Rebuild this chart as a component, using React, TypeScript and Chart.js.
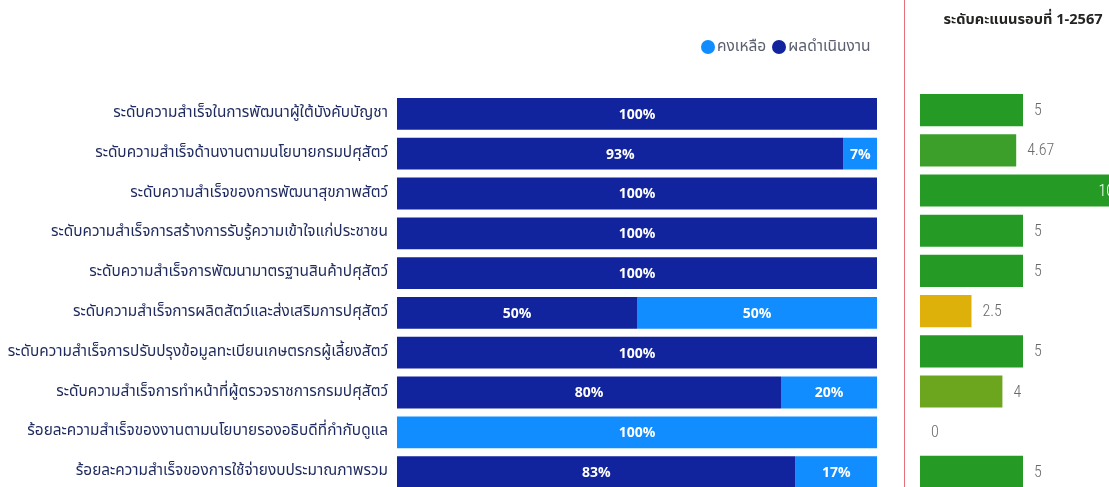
import React, { useEffect, useRef } from "react";
import { Chart, registerables } from "chart.js";

Chart.register(...registerables);

const categories = [
  "ระดับความสำเร็จในการพัฒนาผู้ใต้บังคับบัญชา",
  "ระดับความสำเร็จด้านงานตามนโยบายกรมปศุสัตว์",
  "ระดับความสำเร็จของการพัฒนาสุขภาพสัตว์",
  "ระดับความสำเร็จการสร้างการรับรู้ความเข้าใจแก่ประชาชน",
  "ระดับความสำเร็จการพัฒนามาตรฐานสินค้าปศุสัตว์",
  "ระดับความสำเร็จการผลิตสัตว์และส่งเสริมการปศุสัตว์",
  "ระดับความสำเร็จการปรับปรุงข้อมูลทะเบียนเกษตรกรผู้เลี้ยงสัตว์",
  "ระดับความสำเร็จการทำหน้าที่ผู้ตรวจราชการกรมปศุสัตว์",
  "ร้อยละความสำเร็จของงานตามนโยบายรองอธิบดีที่กำกับดูแล",
  "ร้อยละความสำเร็จของการใช้จ่ายงบประมาณภาพรวม",
];

const seriesDone = "ผลดำเนินงาน";
const seriesRemain = "คงเหลือ";
const doneValues = [100, 93, 100, 100, 100, 50, 100, 80, 0, 83];
const remainValues = [0, 7, 0, 0, 0, 50, 0, 20, 100, 17];

const scoreTitle = "ระดับคะแนนรอบที่ 1-2567";
const scoreValues = [5, 4.67, 10, 5, 5, 2.5, 5, 4, 0, 5];
const scoreMax = 10;

const DARK = "#12239E";
const LIGHT = "#118DFF";
const THAI_FONT = "'Noto Sans Thai', 'Noto Sans', 'DejaVu Sans', sans-serif";

function scoreColor(v: number): string {
  if (v >= 5) return "#259A25";
  if (v >= 4.5) return "#3C9F29";
  if (v >= 4) return "#6CA51E";
  return "#DDB10A";
}

const stackLabelPlugin = {
  id: "stackLabels",
  afterDatasetsDraw(chart: any) {
    const ctx = chart.ctx;
    ctx.save();
    ctx.font = "bold 14px 'Open Sans', 'Noto Sans', sans-serif";
    ctx.fillStyle = "#FFFFFF";
    ctx.textAlign = "center";
    ctx.textBaseline = "middle";
    chart.data.datasets.forEach((ds: any, di: number) => {
      const meta = chart.getDatasetMeta(di);
      meta.data.forEach((bar: any, i: number) => {
        const v = ds.data[i];
        if (!v) return;
        const cx = (bar.x + bar.base) / 2;
        ctx.fillText(v + "%", cx, bar.y + 1);
      });
    });
    ctx.restore();
  },
};

const scoreLabelPlugin = {
  id: "scoreLabels",
  afterDatasetsDraw(chart: any) {
    const ctx = chart.ctx;
    ctx.save();
    ctx.font = "300 16px 'Liberation Sans Narrow', 'Roboto', sans-serif";
    try { (ctx as any).fontStretch = "condensed"; } catch (e) {}
    ctx.textBaseline = "middle";
    const meta = chart.getDatasetMeta(0);
    const ds = chart.data.datasets[0];
    meta.data.forEach((bar: any, i: number) => {
      const v = ds.data[i];
      const txt = String(v);
      const w = ctx.measureText(txt).width;
      if (bar.x + 11 + w > chart.chartArea.right) {
        ctx.fillStyle = "#FFFFFF";
        ctx.textAlign = "right";
        ctx.fillText(txt, bar.x - 12, bar.y + 1);
      } else {
        ctx.fillStyle = "#6A6A6A";
        ctx.textAlign = "left";
        ctx.fillText(txt, bar.x + 11, bar.y + 1);
      }
    });
    ctx.restore();
  },
};

export default function App() {
  const leftRef = useRef<HTMLCanvasElement>(null);
  const rightRef = useRef<HTMLCanvasElement>(null);

  useEffect(() => {
    const left = new Chart(leftRef.current!, {
      type: "bar",
      data: {
        labels: categories,
        datasets: [
          { label: seriesDone, data: doneValues, backgroundColor: DARK, borderWidth: 0, barPercentage: 1, categoryPercentage: 0.8 },
          { label: seriesRemain, data: remainValues, backgroundColor: LIGHT, borderWidth: 0, barPercentage: 1, categoryPercentage: 0.8 },
        ],
      },
      options: {
        indexAxis: "y",
        responsive: false,
        animation: false,
        layout: { padding: { top: 94, bottom: 8, right: 3, left: 0 } },
        plugins: { legend: { display: false }, tooltip: { enabled: false } },
        scales: {
          x: { stacked: true, min: 0, max: 100, display: false },
          y: {
            stacked: true,
            grid: { display: false, drawTicks: false },
            border: { display: false },
            ticks: {
              padding: 9,
              color: "#1E2A5E",
              font: { size: 15.4, family: THAI_FONT },
            },
            afterFit: (s: any) => {
              s.width = 397;
              s.paddingTop = 0;
              s.paddingBottom = 0;
            },
          },
        },
      },
      plugins: [stackLabelPlugin],
    } as any);

    const right = new Chart(rightRef.current!, {
      type: "bar",
      data: {
        labels: categories,
        datasets: [
          {
            label: scoreTitle,
            data: scoreValues,
            backgroundColor: scoreValues.map(scoreColor),
            borderWidth: 0,
            barPercentage: 1,
            categoryPercentage: 0.8,
          },
        ],
      },
      options: {
        indexAxis: "y",
        responsive: false,
        animation: false,
        layout: { padding: { top: 0, bottom: 8, left: 10, right: 18 } },
        plugins: {
          legend: { display: false },
          tooltip: { enabled: false },
          title: {
            display: true,
            text: scoreTitle,
            color: "#252423",
            font: { size: 14.6, weight: "bold", family: THAI_FONT, lineHeight: 1.2 },
            padding: { top: 12, bottom: 60.5 },
          },
        },
        scales: {
          x: { min: 0, max: scoreMax, display: false },
          y: { display: false },
        },
      },
      plugins: [scoreLabelPlugin],
    } as any);

    return () => {
      left.destroy();
      right.destroy();
    };
  }, []);

  const dot = (c: string) => (
    <span style={{ display: "inline-block", width: 14, height: 14, borderRadius: 7, background: c, marginRight: 2 }} />
  );

  return (
    <div style={{ position: "fixed", left: 0, top: 0, width: 1109, height: 487, overflow: "hidden", background: "#FFFFFF" }}>
      <canvas ref={leftRef} width={880} height={500} style={{ position: "absolute", left: 0, top: 0 }} />
      <div
        style={{
          position: "absolute",
          left: 701,
          top: 35,
          display: "flex",
          alignItems: "center",
          fontFamily: THAI_FONT,
          fontSize: 15.5,
          color: "#5A5E6E",
          whiteSpace: "nowrap",
        }}
      >
        {dot(LIGHT)}
        <span style={{ marginRight: 6 }}>{seriesRemain}</span>
        {dot(DARK)}
        <span>{seriesDone}</span>
      </div>
      <div style={{ position: "absolute", left: 904, top: 0, width: 1, height: 487, background: "#E8707A" }} />
      <canvas ref={rightRef} width={234} height={500} style={{ position: "absolute", left: 910, top: 0 }} />
    </div>
  );
}
